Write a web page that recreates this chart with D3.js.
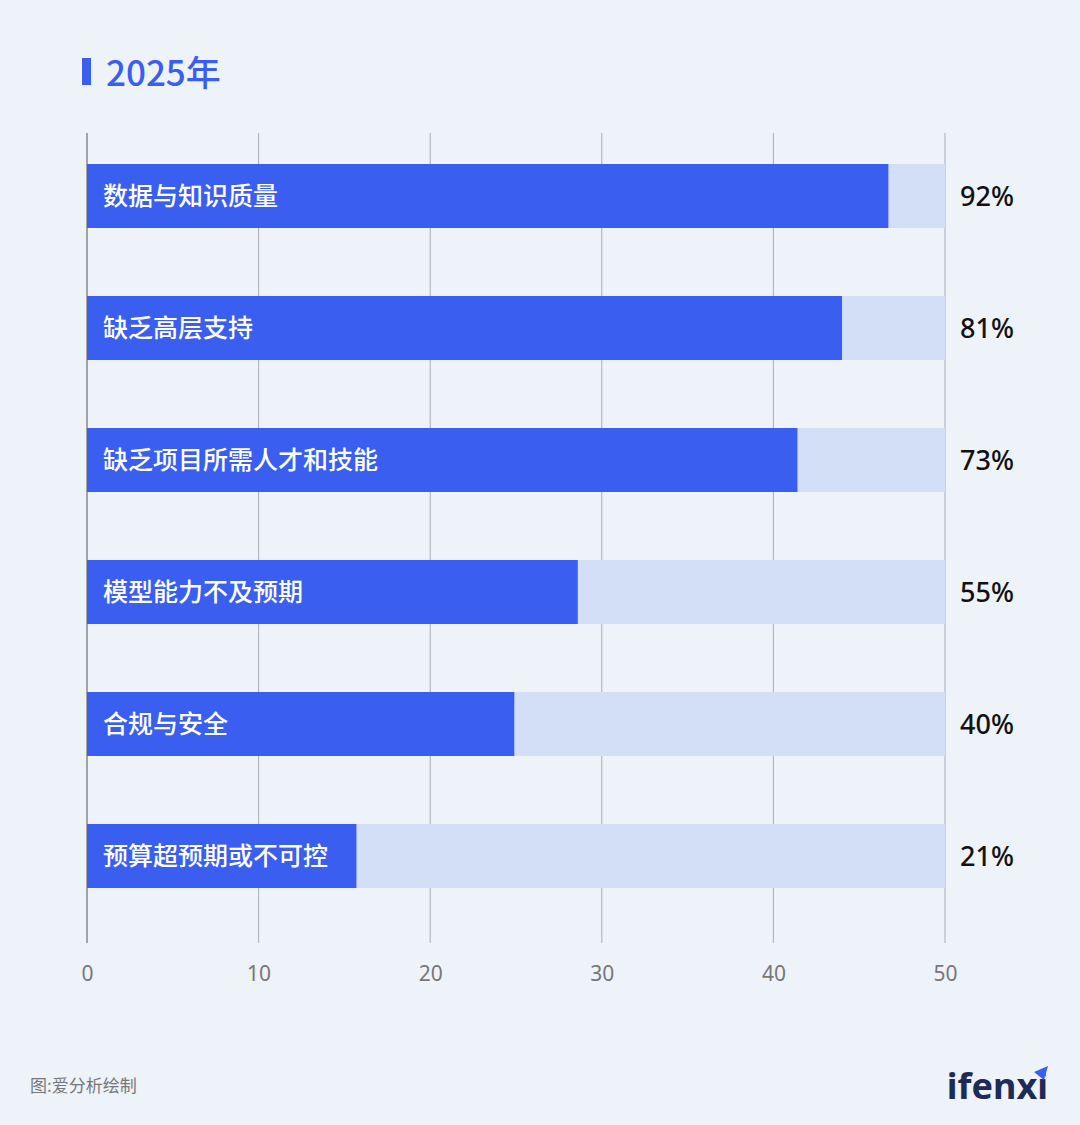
<!DOCTYPE html>
<html><head><meta charset="utf-8">
<script src="https://cdn.jsdelivr.net/npm/d3@7"></script>
<style>body{margin:0;background:#eef2f9;font-family:"Noto Sans CJK SC","Noto Sans",sans-serif;}</style>
</head><body><div id="chart"></div>
<script>
const categories = ['数据与知识质量','缺乏高层支持','缺乏项目所需人才和技能','模型能力不及预期','合规与安全','预算超预期或不可控'];
const values = [46.7, 44.0, 41.4, 28.6, 24.9, 15.7];
const pctLabels = ['92%','81%','73%','55%','40%','21%'];
const ticks = [0,10,20,30,40,50];

const W = 1080, H = 1125;
const svg = d3.select('#chart').append('svg').attr('width', W).attr('height', H);
svg.append('rect').attr('width', W).attr('height', H).attr('fill', '#eef2f9');

// title
svg.append('rect').attr('x', 82).attr('y', 58).attr('width', 9).attr('height', 27).attr('fill', '#3a5ef0');
svg.append('text').attr('x', 106).attr('y', 86).attr('font-size', 35).attr('font-weight', 500).attr('fill', '#3a5ef0').text('2025年');

const x = d3.scaleLinear().domain([0, 50]).range([87, 945]);
const y = d3.scaleBand().domain(categories).range([130, 130 + 6 * 132]).paddingInner(0.515).paddingOuter(0.2575);

// grid
svg.append('g').selectAll('line').data(ticks).join('line')
  .attr('x1', d => x(d)).attr('x2', d => x(d)).attr('y1', 133).attr('y2', 943)
  .attr('stroke', d => d === 0 ? '#555' : '#a9adb5').attr('stroke-width', 1);

// axis labels
const ax = svg.append('g').attr('transform', 'translate(0,960)').call(d3.axisBottom(x).tickValues(ticks).tickSize(0).tickPadding(6));
ax.select('.domain').remove();
ax.selectAll('text').attr('font-size', 21).attr('fill', '#777').attr('font-family', '"Noto Sans",sans-serif');

// tracks
svg.append('g').selectAll('rect').data(categories).join('rect')
  .attr('x', x(0)).attr('y', d => y(d)).attr('width', x(50) - x(0)).attr('height', y.bandwidth()).attr('fill', '#d3def7');
// bars
svg.append('g').selectAll('rect').data(values).join('rect')
  .attr('x', x(0)).attr('y', (d, i) => y(categories[i])).attr('width', d => x(d) - x(0)).attr('height', y.bandwidth()).attr('fill', '#3a5ef0');
// names
svg.append('g').selectAll('text').data(categories).join('text')
  .attr('x', x(0) + 16).attr('y', d => y(d) + y.bandwidth() / 2).attr('dy', '0.36em')
  .attr('font-size', 25).attr('font-weight', 500).attr('fill', '#fff').text(d => d);
// pct
svg.append('g').selectAll('text').data(pctLabels).join('text')
  .attr('x', 960).attr('y', (d, i) => y(categories[i]) + y.bandwidth() / 2).attr('dy', '0.36em')
  .attr('font-size', 27).attr('font-weight', 500).attr('fill', '#111').attr('font-family', '"Noto Sans",sans-serif').text(d => d);

// footer
svg.append('text').attr('x', 30).attr('y', 1092).attr('font-size', 17).attr('fill', '#777').text('图:爱分析绘制');
svg.append('text').attr('x', 1048).attr('y', 1099).attr('text-anchor', 'end').attr('font-size', 36).attr('font-weight', 'bold')
  .attr('fill', '#1d2b55').attr('font-family', '"Noto Sans",sans-serif').text('ifenxi');
svg.append('path').attr('d', 'M1034,1072 L1048,1066 L1044,1080 Z').attr('fill', '#3a5ef0');
</script></body></html>
